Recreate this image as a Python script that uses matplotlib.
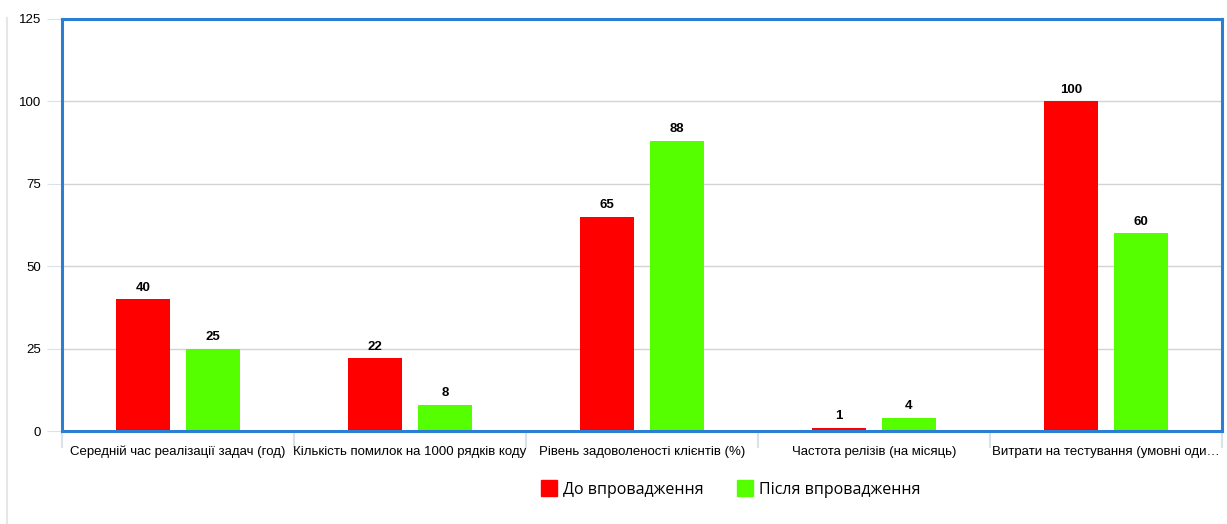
import numpy as np
import matplotlib.pyplot as plt
from matplotlib.lines import Line2D

categories = [
    "Середній час реалізації задач (год)",
    "Кількість помилок на 1000 рядків коду",
    "Рівень задоволеності клієнтів (%)",
    "Частота релізів (на місяць)",
    "Витрати на тестування (умовні оди…",
]
before = [40, 22, 65, 1, 100]
after = [25, 8, 88, 4, 60]
series_names = ["До впровадження", "Після впровадження"]
yticks = [0, 25, 50, 75, 100, 125]

plt.rcParams["font.family"] = ["Liberation Sans", "DejaVu Sans"]

fig = plt.figure(figsize=(12.27, 5.24), dpi=100)
ax = fig.add_axes([62 / 1227, 1 - 431 / 524, 1160 / 1227, 412 / 524])

x = np.arange(len(categories))
width = 0.233
off = 0.15
b1 = ax.bar(x - off, before, width, color="#ff0000", zorder=3)
b2 = ax.bar(x + off, after, width, color="#55ff00", zorder=3)

for bars, vals in ((b1, before), (b2, after)):
    for rect, v in zip(bars, vals):
        ax.annotate(str(v), (rect.get_x() + rect.get_width() / 2, v),
                    xytext=(0, 4), textcoords="offset points",
                    ha="center", va="bottom", fontsize=9.5, fontweight="bold")

ax.set_xlim(-0.5, len(categories) - 0.5)
ax.set_ylim(0, 125)
ax.set_yticks(yticks)
ax.yaxis.grid(True, color="#d3d3d3", linewidth=1, zorder=0)
ax.tick_params(axis="y", length=11, color="#d9e2ea", labelsize=9.5, pad=4)

# category boundaries as ticks
ax.set_xticks(np.arange(len(categories) + 1) - 0.5, minor=False)
ax.set_xticklabels([])
ax.tick_params(axis="x", length=12, color="#d9e2ea", width=1.5)
for i, c in enumerate(categories):
    ax.text(i, -0.05, c, transform=ax.get_xaxis_transform(),
            ha="center", va="center", fontsize=9.5)

for s in ax.spines.values():
    s.set_color("#2a7fd4")
    s.set_linewidth(2.2)
    s.set_zorder(4)

handles = [Line2D([], [], marker="s", linestyle="", markersize=12,
                  markerfacecolor=c, markeredgecolor=c)
           for c in ("#ff0000", "#55ff00")]
fig.legend(handles, series_names, loc="center", bbox_to_anchor=(730 / 1227, 1 - 490 / 524),
           ncol=2, frameon=False, prop={"family": "Open Sans", "size": 11.5},
           handletextpad=0.3, columnspacing=2.0, handlelength=1.2)

fig.add_artist(Line2D([7 / 1227, 7 / 1227], [0, 1 - 18 / 524], color="#e6e6e6", linewidth=1.5))

fig.savefig("out.png", dpi=100)
